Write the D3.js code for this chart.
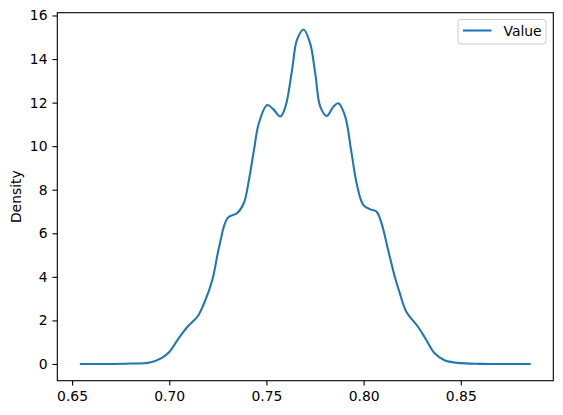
<!DOCTYPE html>
<html>
<head>
<meta charset="utf-8">
<script src="https://cdn.jsdelivr.net/npm/d3@7"></script>
<style>
  body { margin: 0; background: #fff; }
  text { font-family: "DejaVu Sans", sans-serif; }
</style>
</head>
<body>
<svg width="563" height="415"></svg>
<script>
// KDE curve
var xValues = [0.654, 0.670, 0.680, 0.690, 0.696, 0.700, 0.705, 0.7095, 0.7146, 0.718,
  0.7222, 0.7257, 0.730, 0.735, 0.7384, 0.741, 0.7436, 0.7461, 0.7504, 0.7535,
  0.7572, 0.7598, 0.7632, 0.7657, 0.7691, 0.7725, 0.7751, 0.7777, 0.781, 0.7845,
  0.787, 0.7904, 0.7938, 0.7964, 0.7998, 0.8032, 0.8066, 0.8092, 0.8126, 0.816,
  0.8186, 0.8219, 0.8279, 0.8322, 0.8364, 0.8416, 0.8484, 0.86, 0.886];
var density = [0, 0, 0.02, 0.07, 0.27, 0.55, 1.2, 1.72, 2.18, 2.8,
  3.87, 5.39, 6.7, 6.93, 7.39, 8.45, 9.83, 11.05, 11.89, 11.7,
  11.36, 11.82, 13.5, 14.88, 15.36, 14.72, 13.35, 11.82, 11.39, 11.82,
  11.97, 11.4, 9.68, 8.3, 7.31, 7.11, 7.0, 6.47, 5.24, 4.02,
  3.26, 2.41, 1.72, 1.11, 0.5, 0.17, 0.05, 0.005, 0];
var xTicks = [0.65, 0.70, 0.75, 0.80, 0.85];
var yTicks = [0, 2, 4, 6, 8, 10, 12, 14, 16];
var seriesName = "Value";

var box = {left: 57.3, top: 12.7, right: 553.3, bottom: 380.7};
var fs = 13.9;

var svg = d3.select("svg");

var pad = 0.05 * (d3.max(xValues) - d3.min(xValues));
var x = d3.scaleLinear()
    .domain([d3.min(xValues) - pad, d3.max(xValues) + pad])
    .range([box.left, box.right]);
var ypad = 0.05 * d3.max(density);
var y = d3.scaleLinear()
    .domain([-ypad, d3.max(density) + ypad])
    .range([box.bottom, box.top]);

var pts = xValues.map(function(v, i) { return [v, density[i]]; });

var line = d3.line()
    .x(function(d) { return x(d[0]); })
    .y(function(d) { return y(d[1]); })
    .curve(d3.curveCatmullRom.alpha(0.5));

svg.append("path")
    .datum(pts)
    .attr("d", line)
    .attr("fill", "none")
    .attr("stroke", "#1f77b4")
    .attr("stroke-width", 2.08)
    .attr("stroke-linejoin", "round")
    .attr("stroke-linecap", "butt");

// axes
var xAxis = svg.append("g")
    .attr("transform", "translate(0," + box.bottom + ")")
    .call(d3.axisBottom(x).tickValues(xTicks).tickFormat(d3.format(".2f"))
      .tickSize(4.9).tickPadding(6).tickSizeOuter(0));
var yAxis = svg.append("g")
    .attr("transform", "translate(" + box.left + ",0)")
    .call(d3.axisLeft(y).tickValues(yTicks).tickFormat(d3.format("d"))
      .tickSize(4.9).tickPadding(4.9).tickSizeOuter(0));

[xAxis, yAxis].forEach(function(g) {
  g.select(".domain").remove();
  g.selectAll(".tick line").attr("stroke", "#000").attr("stroke-width", 1.1);
  g.selectAll(".tick text").attr("fill", "#000")
    .style("font-size", fs + "px").style("font-family", "DejaVu Sans");
});

// frame
svg.append("rect")
    .attr("x", box.left).attr("y", box.top)
    .attr("width", box.right - box.left).attr("height", box.bottom - box.top)
    .attr("fill", "none").attr("stroke", "#000").attr("stroke-width", 1.1);

svg.append("text")
    .attr("transform", "translate(21," + ((box.top + box.bottom) / 2) + ") rotate(-90)")
    .attr("text-anchor", "middle")
    .style("font-size", fs + "px")
    .text("Density");

// legend
var lg = svg.append("g");
lg.append("rect")
    .attr("x", 458).attr("y", 19.5)
    .attr("width", 88).attr("height", 24.5)
    .attr("rx", 3)
    .attr("fill", "#fff").attr("fill-opacity", 0.8)
    .attr("stroke", "#cccccc").attr("stroke-width", 1);
lg.append("line")
    .attr("x1", 463).attr("x2", 491.5)
    .attr("y1", 30.5).attr("y2", 30.5)
    .attr("stroke", "#1f77b4").attr("stroke-width", 2.08);
lg.append("text")
    .attr("x", 503.5).attr("y", 35.5)
    .style("font-size", fs + "px")
    .text(seriesName);
</script>
</body>
</html>
